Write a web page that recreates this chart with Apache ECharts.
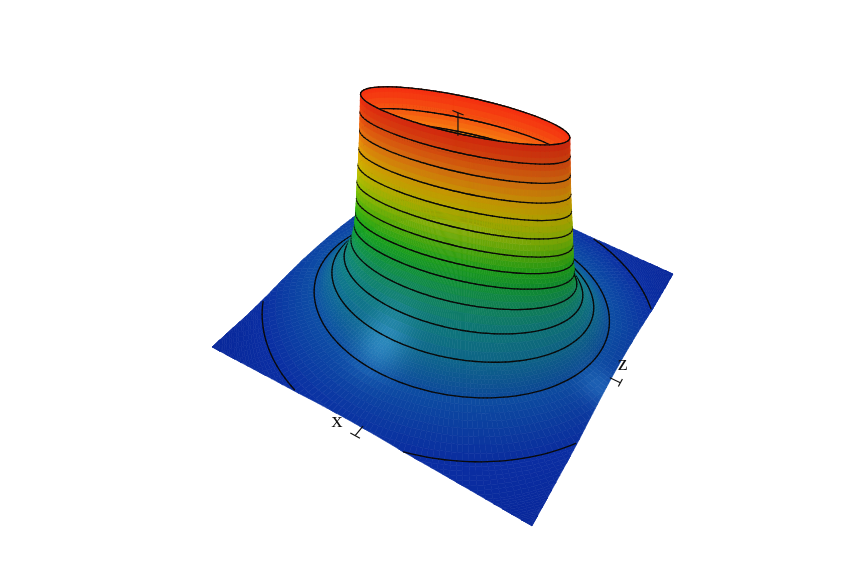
<!DOCTYPE html>
<html><head><meta charset="utf-8">
<style>html,body{margin:0;padding:0;background:#fff}#c{width:860px;height:573px}</style>
<script src="https://cdn.jsdelivr.net/npm/echarts@6/dist/echarts.min.js"></script>
</head><body><div id="c"></div>
<script>
// Cross-section of the surface per row:
// long half-axis, short half-axis, height. Inner wall first, then rim, then outer skirt.
const axisLong  = [.02,.35,.58,.597,.592,.582,.577,.58,.588,.597,.607,.618,.63,.64,.65,.66,.68,.72,.79,.89,1.18,1.25,1.35,1.42];
const axisShort = [.02,.12,.175,.18,.175,.17,.17,.175,.175,.18,.185,.19,.2,.21,.23,.26,.335,.435,.555,.71,1.035,1.25,1.35,1.42];
const rowHeight = [.6,.6,.66,.72,.81,.88,.96,.98,.895,.81,.72,.64,.555,.47,.395,.33,.265,.20,.135,.065,.012,.005,.002,0];
const contourRows = [3,4,5,7,8,9,10,11,12,13,14,15,16,17,18,19,20];
const axisAngleDeg = 14;
const corners = {L:[212,347],B:[532,526],R:[673,274],K:[418,166]};
const vanish = [455,1751], tau = -0.12;
const stops = [[0,[8,36,140]],[.012,[9,42,148]],[.065,[12,72,150]],[.135,[14,100,135]],[.2,[14,116,120]],[.265,[16,130,90]],[.33,[16,145,50]],[.395,[30,160,25]],[.47,[80,170,10]],[.555,[140,178,5]],[.64,[185,170,0]],[.72,[205,150,5]],[.81,[215,110,15]],[.895,[215,70,15]],[.98,[215,40,15]]];
const N=216;
const subFor=i=>i>=18?8:3;

const {L,B,R,K}=corners;
const dx1=B[0]-R[0],dx2=K[0]-R[0],sx=L[0]-B[0]+R[0]-K[0],dy1=B[1]-R[1],dy2=K[1]-R[1],sy=L[1]-B[1]+R[1]-K[1];
const den=dx1*dy2-dx2*dy1;
const g=(sx*dy2-dx2*sy)/den,hh=(dx1*sy-sx*dy1)/den;
const a=B[0]-L[0]+g*B[0],b=K[0]-L[0]+hh*K[0],c=L[0],d=B[1]-L[1]+g*B[1],e=K[1]-L[1]+hh*K[1],f=L[1];
const W0=g*.5+hh*.5+1;
function proj(x,z,h){const s=(x+1)/2,t=(z+1)/2;
  const k=h*tau*W0;
  const X=a*s+b*t+c+k*vanish[0],Y=d*s+e*t+f+k*vanish[1],W=g*s+hh*t+1+k;
  return {p:[X/W,Y/W],w:W};}
function col(h){h=Math.max(0,Math.min(1,h));let i=0;while(i<stops.length-2&&h>stops[i+1][0])i++;
  const u=Math.min(1,(h-stops[i][0])/(stops[i+1][0]-stops[i][0]));
  return stops[i][1].map((v,k)=>v+(stops[i+1][1][k]-v)*u);}
const phi=axisAngleDeg*Math.PI/180;
function rmax(th){return 1/Math.max(Math.abs(Math.cos(th)),Math.abs(Math.sin(th)));}
function polar(ra,rb,th){const ct=Math.cos(th-phi)/ra,st=Math.sin(th-phi)/rb;return 1/Math.hypot(ct,st);}
const outerStart=7;
function heightAlong(th,r){
  for(let i=outerStart;i<axisLong.length-1;i++){
    const r0=polar(axisLong[i],axisShort[i],th),r1=polar(axisLong[i+1],axisShort[i+1],th);
    if(r>=r0&&r<=r1)return rowHeight[i]+(rowHeight[i+1]-rowHeight[i])*(r-r0)/(r1-r0);
  }
  return rowHeight[rowHeight.length-1];
}
function point(rowF,j){
  const i=Math.min(Math.floor(rowF),axisLong.length-2),u=rowF-i;
  const th=j/N*2*Math.PI;
  const r0=polar(axisLong[i],axisShort[i],th),r1=polar(axisLong[i+1],axisShort[i+1],th);
  let r=r0+(r1-r0)*u,h=rowHeight[i]+(rowHeight[i+1]-rowHeight[i])*u;
  const rm=rmax(th);let clamped=false;
  if(r>rm){r=rm;h=heightAlong(th,rm);clamped=true;}
  const x=r*Math.cos(th),z=r*Math.sin(th);
  return {x,z,h,r,clamped,pr:proj(x,z,h)};
}
function shade(rgb,x,z,h,nx,ny,nz,inner){
  const n=Math.hypot(nx,ny,nz)||1;
  const dot=(nx*-.5+ny*.1+nz*.3)/n;
  let m=Math.max(.75,Math.min(1.1,1+.3*(dot+.3)));
  if(inner)m=1.14;
  let out=rgb.map(v=>Math.min(255,v*m));
  const b1=.5*Math.exp(-(((x+.14)**2+(z+.60)**2)/.02));
  const b2=.3*Math.exp(-(((x-.97)**2+(z+.14)**2)/.012));
  const sp=(h<.4?1:0)*(b1+b2);
  out=out.map((v,k)=>v+([70,170,230][k]-v)*sp);
  return 'rgb('+out.map(v=>Math.round(v)).join(',')+')';
}
// the wall has two faces: push whichever face looks away from the viewer further back in the paint order
function facingBias(row,j){
  if(row>=16)return 0;
  const front=Math.sin((j+.5)/N*2*Math.PI-phi)<0;
  return (row<outerStart)===front?.025:0;
}
const items=[];
for(let i=0;i<axisLong.length-1;i++){const SUB=subFor(i);for(let s=0;s<SUB;s++)for(let j=0;j<N;j++){
  const r0=i+s/SUB,r1=i+(s+1)/SUB;
  const p=[point(r0,j),point(r1,j),point(r1,j+1),point(r0,j+1)];
  if(p[0].clamped&&p[3].clamped)continue;
  const cx=(p[0].x+p[2].x)/2,cz=(p[0].z+p[2].z)/2,ch=(p[0].h+p[1].h+p[2].h+p[3].h)/4;
  const v1=[p[2].x-p[0].x,(p[2].h-p[0].h)*2,p[2].z-p[0].z],v2=[p[3].x-p[1].x,(p[3].h-p[1].h)*2,p[3].z-p[1].z];
  let nx=v1[1]*v2[2]-v1[2]*v2[1],ny=v1[2]*v2[0]-v1[0]*v2[2],nz=v1[0]*v2[1]-v1[1]*v2[0];
  if(nx*cx+nz*cz<0){nx=-nx;ny=-ny;nz=-nz;}
  const pw=(p[0].pr.w+p[1].pr.w+p[2].pr.w+p[3].pr.w)/4+facingBias(i,j);
  items.push({t:'q',pts:p.map(q=>q.pr.p),w:pw,fill:shade(col(ch),cx,cz,ch,nx,Math.abs(ny),nz,i<outerStart)});
}}
contourRows.forEach(i=>{for(let j=0;j<N;j++){
  const A=point(i,j),C=point(i,j+1);
  if(A.clamped||C.clamped)continue;
  items.push({t:'l',pts:[A.pr.p,C.pr.p],w:(A.pr.w+C.pr.w)/2-(i>=17?.012:.003)+(i===7?0:facingBias(i,j))});
}});
items.sort((m,n)=>n.w-m.w);
const ticks=[
 [[0,-.975,0],[0,-1.04,0]],[[-.03,-1.04,0],[.03,-1.04,0]],
 [[.975,0,0],[1.04,0,0]],[[1.04,-.03,0],[1.04,.03,0]],
 [[-.03,-.01,.88],[-.03,-.01,.985]],[[-.065,-.01,.985],[.005,-.01,.985]]
];
const names=[['x',-.13,-1.02],['z',1.0,.13]];
const chart=echarts.init(document.getElementById('c'),null,{renderer:'canvas'});
chart.setOption({
 animation:false,backgroundColor:'#fff',
 grid:{left:0,right:0,top:0,bottom:0},
 xAxis:{type:'value',min:0,max:860,show:false},
 yAxis:{type:'value',min:0,max:573,inverse:true,show:false},
 series:[
 {type:'custom',coordinateSystem:'cartesian2d',silent:true,clip:false,progressive:0,
  data:items.map((_,i)=>[i]),
  encode:{x:0,y:0},
  renderItem(p,api){const it=items[p.dataIndex];
    if(it.t==='q')return {type:'polygon',shape:{points:it.pts.map(q=>api.coord(q))},style:{fill:it.fill,stroke:it.fill,lineWidth:.6}};
    const A=api.coord(it.pts[0]),C=api.coord(it.pts[1]);
    return {type:'line',shape:{x1:A[0],y1:A[1],x2:C[0],y2:C[1]},style:{stroke:'#0a0a0a',lineWidth:1.3,lineCap:'round'}};}},
 {type:'custom',coordinateSystem:'cartesian2d',silent:true,clip:false,z:5,
  data:ticks.map((_,i)=>[i]),encode:{x:0,y:0},
  renderItem(p,api){const t=ticks[p.dataIndex];const A=api.coord(proj(...t[0]).p),C=api.coord(proj(...t[1]).p);
    return {type:'line',shape:{x1:A[0],y1:A[1],x2:C[0],y2:C[1]},style:{stroke:'#111',lineWidth:1.2}};}},
 {type:'custom',coordinateSystem:'cartesian2d',silent:true,clip:false,z:6,
  data:names.map((_,i)=>[i]),encode:{x:0,y:0},
  renderItem(p,api){const t=names[p.dataIndex];const A=api.coord(proj(t[1],t[2],0).p);
    return {type:'text',x:A[0],y:A[1],style:{text:t[0],fill:'#111',font:'22px "Liberation Serif"',align:'center',verticalAlign:'middle'}};}}
 ]
});
</script></body></html>
